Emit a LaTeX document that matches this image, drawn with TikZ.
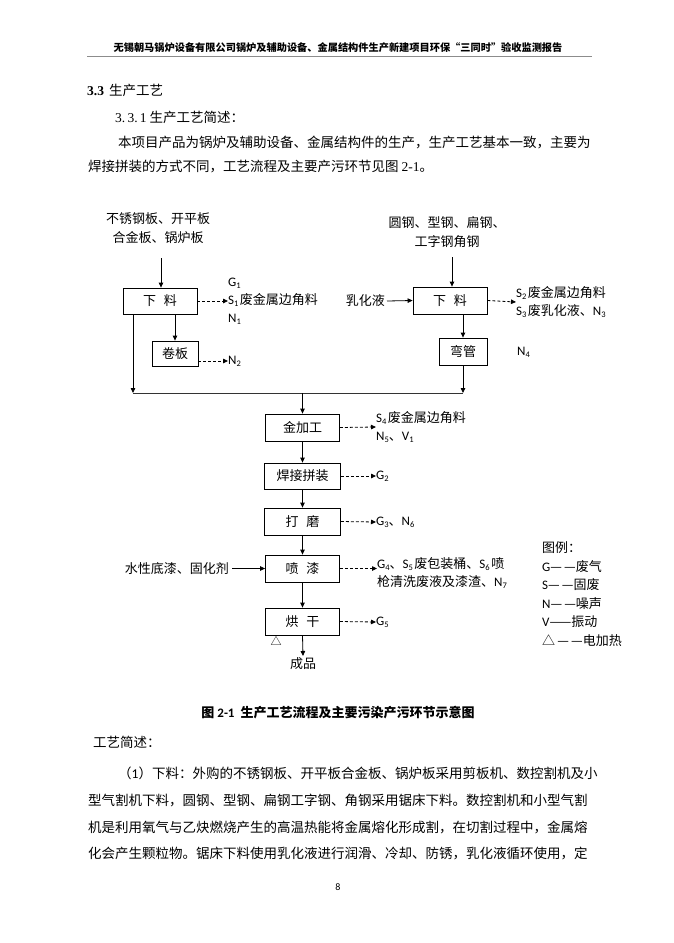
\documentclass[tikz,border=0pt]{standalone}
\usepackage{fontspec}
\setmainfont{Noto Sans CJK SC}
\newfontfamily\calib{Carlito}
\newfontfamily\tnr{Liberation Serif}
\usetikzlibrary{arrows.meta}
\XeTeXlinebreaklocale "zh"
\XeTeXlinebreakskip=0pt plus 3pt minus 0.6pt
\newcommand{\sbs}[1]{\raisebox{-0.35ex}{\fontsize{8.5}{9}\selectfont #1}}
\newcommand{\lb}[2]{{\calib #1\sbs{#2}}}
\newcommand{\lbs}[2]{{\calib #1\sbs{#2}}\hspace{1.5pt}}
\begin{document}
\begin{tikzpicture}[x=1pt,y=-1pt,
  box/.style={draw, line width=0.8pt, inner sep=0pt, font=\fontsize{13}{15}\selectfont},
  arr/.style={line width=0.8pt, -{Triangle[length=5pt,width=4.5pt]}},
  darr/.style={line width=0.8pt, dash pattern=on 3pt off 2pt, -{Triangle[length=5pt,width=4.5pt]}},
  txt/.style={inner sep=0pt, font=\fontsize{13}{19}\selectfont},
  lab/.style={inner sep=0pt, anchor=west, align=left, font=\fontsize{13}{18}\selectfont},
  body/.style={inner sep=0pt, anchor=west, font=\fontsize{13.5}{16}\selectfont},
  rule/.style={draw=black!45, line width=1pt}
]
\useasboundingbox (0,0) rectangle (674,943);
\fill[white] (0,0) rectangle (674,943);

% ---------- page header ----------
\node[inner sep=0pt, font=\fontsize{10.2}{12}\selectfont\bfseries] (hdr) at (338,48)
  {无锡朝马锅炉设备有限公司锅炉及辅助设备、金属结构件生产新建项目环保“三同时”验收监测报告};
\coordinate (r1) at (87,56);
\coordinate (r2) at (592,56);
\draw[rule] (r1) -- (r2);

\node[inner sep=0pt, anchor=west, font=\fontsize{13.5}{16}\selectfont] (sec) at (87,90)
  {{\tnr\bfseries 3.3}\hspace{5pt}生产工艺};
\node[inner sep=0pt, anchor=west, font=\fontsize{13.5}{16}\selectfont] (sub) at (115,117)
  {{\tnr 3.\,3.\,1}\hspace{3pt}生产工艺简述：};
\node[body] (p1) at (118,142)
  {\hbox to 472pt{本项目产品为锅炉及辅助设备、金属结构件的生产，生产工艺基本一致，主要为}};
\node[body] (p2) at (88,167)
  {焊接拼装的方式不同，工艺流程及主要产污环节见图 {\tnr 2-1}。};

% ---------- diagram: left branch ----------
\node[txt, align=center] (inL) at (158,228) {不锈钢板、开平板\\合金板、锅炉板};
\node[box, minimum width=74pt, minimum height=26pt] (L1) at (160,301) {下\hspace{0.6em}料};
\node[box, minimum width=46pt, minimum height=25pt] (jb) at (175,353.5) {卷板};
\node[lab] (g1) at (228,301) {\lb{G}{1}\\\lbs{S}{1}废金属边角料\\\lb{N}{1}};
\node[lab] (n2) at (228,361) {\lb{N}{2}};
\coordinate (a1) at (161,258);
\coordinate (j1) at (133,393);
\coordinate (j2) at (463,393);

% ---------- diagram: right branch ----------
\node[txt, align=center] (inR) at (447,232) {圆钢、型钢、扁钢、\\工字钢角钢};
\node[box, minimum width=74pt, minimum height=27pt] (R1) at (450,300.5) {下\hspace{0.6em}料};
\node[txt, anchor=east] (rh) at (385,301) {乳化液};
\node[lab] (s2) at (516,302) {\lbs{S}{2}废金属边角料\\\lbs{S}{3}废乳化液、\lb{N}{3}};
\node[box, minimum width=48pt, minimum height=27pt] (wg) at (463,351.5) {弯管};
\node[lab] (n4) at (517,352) {\lb{N}{4}};
\coordinate (a2) at (452,257);

% ---------- diagram: main chain ----------
\node[box, minimum width=74pt, minimum height=27pt] (jg) at (302.5,427.5) {金加工};
\node[box, minimum width=76pt, minimum height=26pt] (hj) at (302.5,476) {焊接拼装};
\node[box, minimum width=76pt, minimum height=27pt] (dm) at (302.5,521.5) {打\hspace{0.6em}磨};
\node[box, minimum width=74pt, minimum height=27pt] (pq) at (302.5,568.5) {喷\hspace{0.6em}漆};
\node[box, minimum width=74pt, minimum height=27pt] (hg) at (302.5,621.5) {烘\hspace{0.6em}干};
\node[txt, anchor=east] (sx) at (229,568.5) {水性底漆、固化剂};
\node[txt, inner sep=1pt, anchor=north] (cp) at (303,656) {成品};
\node[inner sep=0pt, font=\fontsize{11}{12}\selectfont] (tri) at (276,641) {△};

\node[lab] (s4) at (376,427) {\lbs{S}{4}废金属边角料\\\lb{N}{5}、\lb{V}{1}};
\node[lab] (g2) at (376,476) {\lb{G}{2}};
\node[lab] (g3) at (376,522) {\lb{G}{3}、\lb{N}{6}};
\node[lab] (g4) at (377,573) {\lb{G}{4}、\lbs{S}{5}废包装桶、\lbs{S}{6}喷\\枪清洗废液及漆渣、\lb{N}{7}};
\node[lab] (g5) at (376,622) {\lb{G}{5}};

% ---------- legend ----------
\node[lab] (lg0) at (542,548) {图例：};
\node[lab] (lg1) at (542,566.5) {{\calib G}—\,—废气};
\node[lab] (lg2) at (542,585) {{\calib S}—\,—固废};
\node[lab] (lg3) at (542,603.5) {{\calib N}—\,—噪声};
\node[lab] (lg4) at (542,622) {{\calib V}——振动};
\node[lab] (lg5) at (542,640.5) {△\,—\,—电加热};

% ---------- connectors ----------
\draw[arr] (a1) -- (a1 |- L1.north);
\draw[darr] (L1.east) -- (g1.west);
\draw[arr] (jb.north |- L1.south) -- (jb.north);
\draw[darr] (jb.east |- n2.west) -- (n2.west);
\draw[arr] (L1.south -| j1) -- (j1);
\draw[line width=0.8pt, black!80] (j1) -- (j2);

\draw[arr] (a2) -- (a2 |- R1.north);
\draw[arr] (rh.east) ++(2pt,0) -- (R1.west);
\draw[darr] (R1.east) -- (s2.west);
\draw[arr] (wg.north |- R1.south) -- (wg.north);
\draw[arr] (wg.south) -- (j2);

\draw[arr] (jg.north |- j1) -- (jg.north);
\draw[arr] (jg.south) -- (hj.north);
\draw[arr] (hj.south) -- (dm.north);
\draw[arr] (dm.south) -- (pq.north);
\draw[arr] (pq.south) -- (hg.north);
\draw[arr] (hg.south) -- (cp.north);
\draw[arr] ([xshift=3pt]sx.east) -- (pq.west);

\draw[darr] (jg.east) -- (s4.west);
\draw[darr] (hj.east) -- (g2.west);
\draw[darr] (dm.east) -- (g3.west);
\draw[darr] (pq.east) -- (pq.east -| g4.west);
\draw[darr] (hg.east) -- (g5.west);

% ---------- caption and text below ----------
\node[inner sep=0pt, font=\fontsize{13}{15}\selectfont\bfseries] (cap) at (338,713)
  {图 {\calib\bfseries 2-1}\hspace{6pt}生产工艺流程及主要污染产污环节示意图};
\node[body] (q0) at (93,742) {工艺简述：};
\node[body] (q1) at (118,773)
  {\hbox to 472pt{（{\calib 1}）下料：外购的不锈钢板、开平板合金板、锅炉板采用剪板机、数控割机及小}};
\node[body] (q2) at (88,800)
  {\hbox to 502pt{型气割机下料，圆钢、型钢、扁钢工字钢、角钢采用锯床下料。数控割机和小型气割}};
\node[body] (q3) at (88,827)
  {\hbox to 502pt{机是利用氧气与乙炔燃烧产生的高温热能将金属熔化形成割，在切割过程中，金属熔}};
\node[body] (q4) at (88,853)
  {\hbox to 502pt{化会产生颗粒物。锯床下料使用乳化液进行润滑、冷却、防锈，乳化液循环使用，定}};
\node[inner sep=0pt, font=\fontsize{10}{12}\selectfont\calib] (pg) at (338,887) {8};
\end{tikzpicture}
\end{document}
